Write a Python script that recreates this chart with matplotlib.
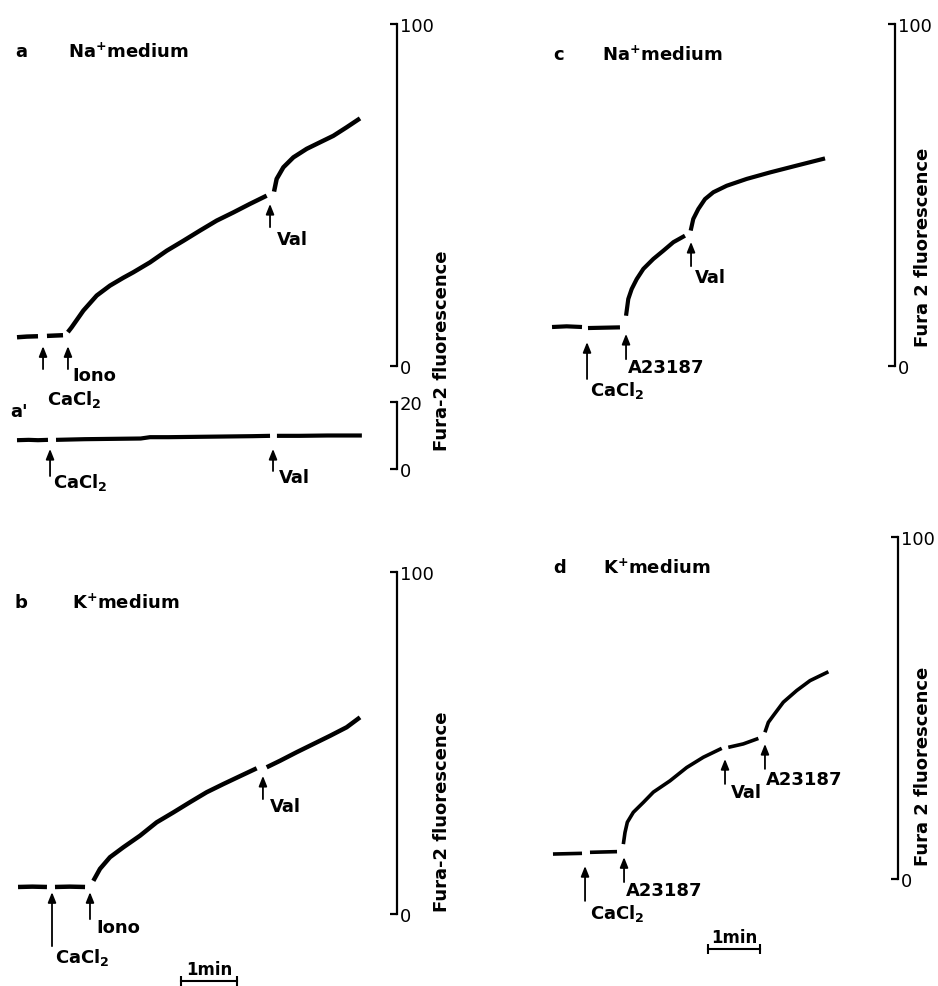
"""
Fura-2 fluorescence traces: panels a, a', b (Iono) and c, d (A23187).

Output:
- Saves the figure to: out.png
"""

import matplotlib.pyplot as plt

OUTPUT_PATH = "out.png"
W, H = 938, 987  # canvas size in pixels (dpi 100)

# --- Data (time in s from trace start, fluorescence in scale units) ---
# Each trace is split into segments where the recorder was interrupted.
A_TIME = [
    [7.5, 18, 30],
    [39.6, 48, 56.8],
    [62, 66, 78.6, 92.9, 107.1, 121.4, 132.1, 150, 167.9, 185.7, 203.6,
     221.4, 239.3, 257.1, 275],
    [282.9, 285.7, 292.9, 303.6, 317.9, 332.1, 346.4, 360.7, 375],
]
A_FLUO = [
    [8.4, 8.6, 8.7],
    [8.8, 8.9, 9.0],
    [9.9, 11.3, 16.2, 20.6, 23.5, 25.8, 27.4, 30.3, 33.7, 36.6, 39.6,
     42.5, 44.9, 47.4, 49.8],
    [51.0, 54.7, 58.1, 61.0, 63.5, 65.4, 67.3, 69.8, 72.4],
]

AP_TIME = [
    [7.5, 20, 30, 40.7],
    [49.3, 80, 110, 140, 150, 170, 200, 230, 260, 278.6],
    [286, 310, 340, 377],
]
AP_FLUO = [
    [8.6, 8.7, 8.6, 8.7],
    [8.7, 8.9, 9.0, 9.1, 9.5, 9.5, 9.6, 9.7, 9.8, 9.9],
    [9.9, 9.9, 10.0, 10.0],
]

B_TIME = [
    [8.6, 24, 39.6],
    [48.2, 64, 80.4],
    [89.3, 96.4, 107.1, 121.4, 139.3, 157.1, 175, 192.9, 210.7, 228.6,
     246.4, 264.3],
    [275, 289.3, 307.1, 325, 342.9, 360.7, 375],
]
B_FLUO = [
    [7.9, 8.0, 7.9],
    [7.9, 8.0, 7.9],
    [9.7, 13.2, 16.6, 19.5, 22.9, 26.8, 29.7, 32.7, 35.6, 38.0, 40.3, 42.6],
    [42.9, 44.8, 47.3, 49.7, 52.1, 54.6, 57.5],
]

C_TIME = [
    [8.1, 25, 42.7],
    [49.6, 68, 86.5],
    [93.5, 96.1, 100, 105.8, 113.5, 125, 136.5, 148.1, 161.5],
    [168.1, 171.1, 176.9, 184.6, 194.2, 209.6, 232.7, 259.6, 290.4, 323.1],
]
C_FLUO = [
    [11.4, 11.6, 11.4],
    [11.1, 11.2, 11.3],
    [14.7, 19.6, 22.5, 25.4, 28.4, 31.3, 33.7, 36.2, 38.1],
    [39.6, 43.0, 45.9, 48.8, 50.8, 52.7, 54.7, 56.6, 58.6, 60.7],
]

D_TIME = [
    [9.2, 26, 42.7],
    [51.9, 67, 83.1],
    [90.4, 92.3, 95, 101.9, 113.5, 125, 144.2, 163.5, 182.7, 203.9],
    [211.5, 228.8, 246.2],
    [253.8, 257.7, 263.5, 275, 290.4, 305.8, 327],
]
D_FLUO = [
    [7.3, 7.4, 7.5],
    [7.8, 7.9, 8.0],
    [10.2, 13.6, 16.6, 19.5, 22.4, 25.4, 28.7, 32.6, 35.6, 38.2],
    [38.5, 39.5, 41.1],
    [42.9, 45.8, 47.8, 51.7, 55.1, 58.0, 60.6],
]

# --- Styling ---
plt.rcParams["font.family"] = ["DejaVu Sans"]
plt.rcParams["mathtext.fontset"] = "dejavusans"

LABEL_KW = dict(fontsize=13, fontweight="bold", ha="left", va="center")
ARROW_KW = dict(
    arrowstyle="-|>,head_length=0.55,head_width=0.22",
    mutation_scale=11, lw=1.3, color="black", shrinkA=0, shrinkB=0,
)


def fx(x):
    return x / W


def fy(y):
    return 1 - y / H


def trace_axes(fig, left, right, top, bottom, tmax, ymax):
    ax = fig.add_axes([fx(left), fy(bottom), (right - left) / W, (bottom - top) / H])
    ax.set_xlim(0, tmax)
    ax.set_ylim(0, ymax)
    ax.patch.set_visible(False)
    for side in ("left", "top", "bottom"):
        ax.spines[side].set_visible(False)
    ax.spines["right"].set_linewidth(1.6)
    ax.set_xticks([])
    ax.yaxis.tick_right()
    ax.set_yticks([0, ymax])
    ax.set_yticklabels(["0", str(ymax)])
    ax.tick_params(axis="y", direction="in", length=5, width=1.6, pad=2,
                   labelsize=13)
    return ax


def draw_trace(ax, times, values, lw):
    for t, v in zip(times, values):
        ax.plot(t, v, color="black", lw=lw, solid_capstyle="butt", clip_on=False)


def mark(ax, t, tip, tail, text, tx, ty):
    ax.annotate("", xy=(t, tip), xytext=(t, tail), arrowprops=ARROW_KW,
                annotation_clip=False)
    ax.text(tx, ty, text, **LABEL_KW)


def time_bar(ax, t0, v, tv):
    ax.plot([t0, t0 + 60], [v, v], color="black", lw=1.5, marker="|",
            ms=7, mew=1.5, clip_on=False)
    ax.text(t0 + 30, tv, "1min", fontsize=12, fontweight="bold",
            ha="center", va="bottom")


def main() -> None:
    fig = plt.figure(figsize=(W / 100, H / 100), dpi=100)

    ca = r"CaCl$_{\mathbf{2}}$"
    na = r"Na$^{\mathbf{+}}$medium"
    k = r"K$^{\mathbf{+}}$medium"

    # --- Left column (1 min = 56 px) ---
    t_ab = (397 - 10) * 60 / 56

    ax_a = trace_axes(fig, 10, 397, 25, 367, t_ab, 100)
    draw_trace(ax_a, A_TIME, A_FLUO, 3.2)
    mark(ax_a, 35.4, 5.8, -0.9, "", 0, 0)
    mark(ax_a, 62.1, 5.8, -0.9, "Iono", 66.4, -2.6)
    ax_a.text(39.6, -9.4, ca, **LABEL_KW)
    mark(ax_a, 278.6, 47.4, 40.6, "Val", 286, 37.1)

    ax_ap = trace_axes(fig, 10, 397, 403, 470, t_ab, 20)
    draw_trace(ax_ap, AP_TIME, AP_FLUO, 3.0)
    mark(ax_ap, 42.9, 6.0, -2.1, ca, 46, -3.8)
    mark(ax_ap, 281.8, 6.0, -0.6, "Val", 288, -2.4)

    ax_b = trace_axes(fig, 10, 397, 573, 915, t_ab, 100)
    draw_trace(ax_b, B_TIME, B_FLUO, 3.2)
    mark(ax_b, 45, 6.4, -9.4, ca, 48.2, -12.3)
    mark(ax_b, 85.7, 6.4, -1.5, "Iono", 92.1, -3.7)
    mark(ax_b, 271, 40.4, 33.6, "Val", 278.6, 31.6)
    time_bar(ax_b, 183.2, -19.6, -18.6)

    # --- Right column (1 min = 52 px) ---
    ax_c = trace_axes(fig, 545, 895, 25, 367, (895 - 545) * 60 / 52, 100)
    draw_trace(ax_c, C_TIME, C_FLUO, 3.0)
    mark(ax_c, 48.5, 7.0, -3.8, ca, 51.9, -6.9)
    mark(ax_c, 93.5, 9.4, 2.0, "A23187", 95.8, -0.3)
    mark(ax_c, 168.5, 36.3, 29.2, "Val", 173, 26.0)

    ax_d = trace_axes(fig, 545, 898, 538, 880, (898 - 545) * 60 / 52, 100)
    draw_trace(ax_d, D_TIME, D_FLUO, 2.6)
    mark(ax_d, 46.2, 3.8, -6.4, ca, 51.9, -9.9)
    mark(ax_d, 91.2, 6.4, -0.9, "A23187", 93.5, -3.2)
    mark(ax_d, 207.7, 35.1, 27.8, "Val", 214.6, 25.4)
    mark(ax_d, 253.8, 39.5, 32.2, "A23187", 255, 29.2)
    time_bar(ax_d, 188, -20.5, -19.5)

    # --- Panel labels ---
    for x, y, s in [(15, 52, "a"), (68, 52, na), (10, 412, "a'"),
                    (15, 603, "b"), (72, 603, k),
                    (553, 55, "c"), (602, 55, na),
                    (553, 568, "d"), (603, 568, k)]:
        fig.text(fx(x), fy(y), s, **LABEL_KW)

    # --- Axis titles (rotated) ---
    for x, y, s in [(442, 351, "Fura-2 fluorescence"),
                    (442, 812, "Fura-2 fluorescence"),
                    (923, 247, "Fura 2 fluorescence"),
                    (923, 766, "Fura 2 fluorescence")]:
        fig.text(fx(x), fy(y), s, rotation=90, fontsize=13, fontweight="bold",
                 ha="center", va="center")

    fig.savefig(OUTPUT_PATH, dpi=100)
    print(f"Saved plot to: {OUTPUT_PATH}")


if __name__ == "__main__":
    main()
